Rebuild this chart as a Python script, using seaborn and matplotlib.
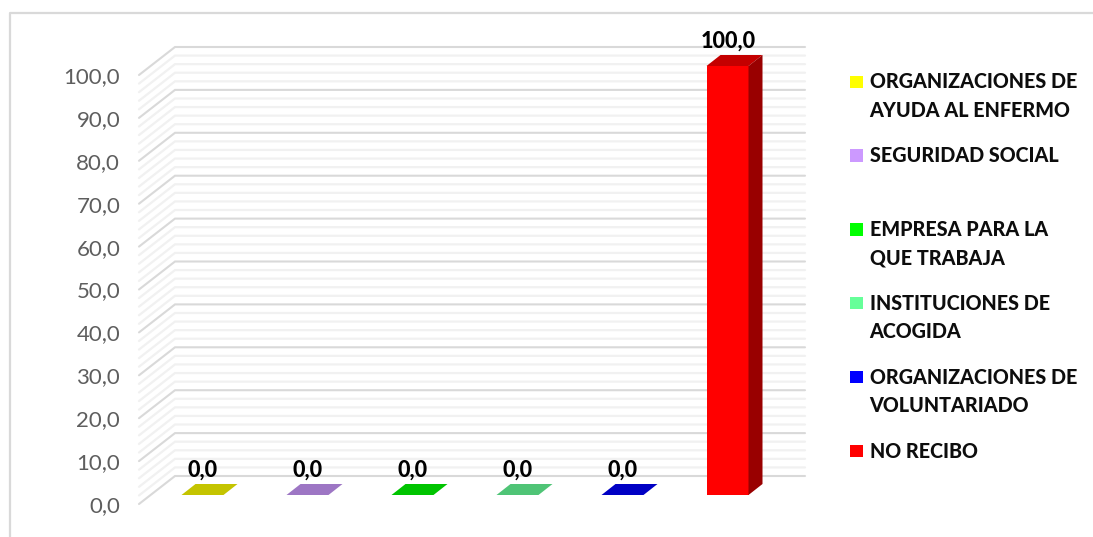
import matplotlib
matplotlib.use("Agg")
import matplotlib.pyplot as plt
import numpy as np
import pandas as pd
import seaborn as sns
from matplotlib.colors import to_rgb
from matplotlib.lines import Line2D
from matplotlib.patches import Polygon, Rectangle
from matplotlib.transforms import IdentityTransform

categories = [
    "ORGANIZACIONES DE\nAYUDA AL ENFERMO",
    "SEGURIDAD SOCIAL",
    "EMPRESA PARA LA\nQUE TRABAJA",
    "INSTITUCIONES DE\nACOGIDA",
    "ORGANIZACIONES DE\nVOLUNTARIADO",
    "NO RECIBO",
]
values = [0.0, 0.0, 0.0, 0.0, 0.0, 100.0]
colors = ["#FFFF00", "#CC99FF", "#00FF00", "#66FF99", "#0000FF", "#FF0000"]
major_ticks = [0, 10, 20, 30, 40, 50, 60, 70, 80, 90, 100]
minor_ticks = [v for v in range(0, 101, 2) if v % 10]

W, H = 1093, 537
WALL_DX, WALL_DY = 36, 28      # depth of the 3D box, px
BAR_SHIFT_DX, BAR_SHIFT_DY = 11, 9  # bars stand part way into the box
BAR_DX, BAR_DY = 14, 11        # depth of each bar, px

sns.set_theme(style="white")
plt.rcParams["font.family"] = ["Lato", "DejaVu Sans"]

fig = plt.figure(figsize=(W / 100, H / 100), dpi=100, facecolor="white")
ax = fig.add_axes([139 / W, (H - 504) / H, 630 / W, 429 / H])
ax.patch.set_visible(False)

df = pd.DataFrame({"categoria": categories, "valor": values})
sns.barplot(data=df, x="categoria", y="valor", hue="categoria", palette=colors,
            width=0.4, legend=False, dodge=False, ax=ax, saturation=1, zorder=3)
ax.set_xlim(-0.5, 5.5)
ax.set_ylim(0, 100)
ax.set_xlabel("")
ax.set_ylabel("")
ax.set_xticks([])
ax.set_yticks(major_ticks)
ax.set_yticklabels([f"{v:.1f}".replace(".", ",") for v in major_ticks],
                    fontsize=16, color="#5E5E5E")
ax.tick_params(axis="y", length=0, pad=13.5)
sns.despine(ax=ax, left=True, bottom=True)

ident = IdentityTransform()
x_left = ax.transData.transform((-0.5, 0))[0]
x_right = ax.transData.transform((5.5, 0))[0]


def wall_line(level, color, lw, z):
    y = ax.transData.transform((0, level))[1]
    fig.add_artist(Line2D([x_left, x_left + WALL_DX, x_right + WALL_DX],
                          [y, y + WALL_DY, y + WALL_DY],
                          transform=ident, color=color, lw=lw, zorder=z,
                          solid_joinstyle="miter"))


for level in minor_ticks:
    wall_line(level, "#F1F1F1", 1.6, 0.5)
for level in major_ticks:
    wall_line(level, "#D9D9D9", 1.5, 0.6)

# Turn each flat seaborn bar into a box: front, top and side faces.
for patch, color, value in zip(ax.patches, colors, values):
    (x0, y0) = ax.transData.transform((patch.get_x(), patch.get_y()))
    (x1, y1) = ax.transData.transform((patch.get_x() + patch.get_width(),
                                       patch.get_y() + patch.get_height()))
    x0, x1 = x0 + BAR_SHIFT_DX, x1 + BAR_SHIFT_DX
    y0, y1 = y0 + BAR_SHIFT_DY, y1 + BAR_SHIFT_DY
    patch.set_visible(False)
    rgb = np.array(to_rgb(color))
    faces = [
        ([(x0, y0), (x1, y0), (x1, y1), (x0, y1)], rgb),
        ([(x0, y1), (x1, y1), (x1 + BAR_DX, y1 + BAR_DY), (x0 + BAR_DX, y1 + BAR_DY)], rgb * 0.77),
        ([(x1, y0), (x1 + BAR_DX, y0 + BAR_DY), (x1 + BAR_DX, y1 + BAR_DY), (x1, y1)], rgb * 0.6),
    ]
    for pts, fc in faces:
        fig.add_artist(Polygon(pts, closed=True, transform=ident, facecolor=fc,
                               edgecolor="none", zorder=3))
    fig.text(((x0 + x1) / 2 + 0.5) / W, (y1 + 25) / H,
             f"{value:.1f}".replace(".", ","), ha="center", va="center",
             fontsize=15.5, fontweight=900, color="#000000", zorder=4)

# Legend entries sit in equal rows, text starting at the top of each row.
ROW_PITCH = 73.8
LINE_PITCH = 28.5
for i, (label, color) in enumerate(zip(categories, colors)):
    y_top = 82 + i * ROW_PITCH
    fig.add_artist(Rectangle((850 / W, 1 - (y_top + 6) / H), 12.5 / W, 12.5 / H,
                             transform=fig.transFigure, facecolor=color,
                             edgecolor="none"))
    for j, line in enumerate(label.split("\n")):
        fig.text(869.5 / W, 1 - (y_top + j * LINE_PITCH) / H, line, ha="left",
                 va="center", fontsize=14.2, fontweight=900, color="#0D0D0D")

# Outer chart frame: only the top and left edges fall inside the canvas.
fig.add_artist(Line2D([9.5, 9.5, W], [0, H - 12.5, H - 12.5], transform=ident,
                      color="#D9D9D9", lw=1.6))

fig.savefig("out.png", dpi=100)
